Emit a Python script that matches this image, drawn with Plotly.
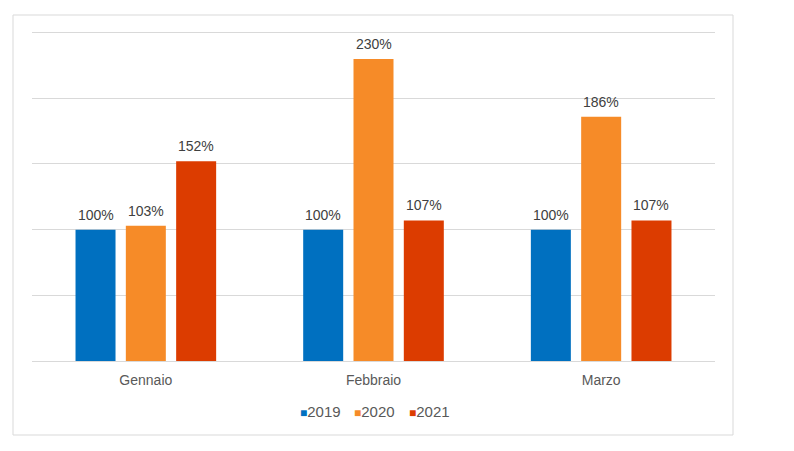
import plotly.graph_objects as go

categories = ["Gennaio", "Febbraio", "Marzo"]
series_names = ["2019", "2020", "2021"]
values_2019 = [1.00, 1.00, 1.00]
values_2020 = [1.03, 2.30, 1.86]
values_2021 = [1.52, 1.07, 1.07]
colors = ["#0070C0", "#F68B28", "#DC3C00"]

# plot-area geometry in pixels
L, R, T, B = 32, 79, 30, 90
W, H = 794, 451
PW = W - L - R
PH = H - T - B
BARGAP, BARGROUPGAP = 0.337, 0.205
SLOT = PW / len(categories) * (1 - BARGAP) / len(series_names)

FONT = "Liberation Sans, Arial, sans-serif"

fig = go.Figure()
annotations = []
all_vals = [values_2019, values_2020, values_2021]
for i, (name, vals, col) in enumerate(zip(series_names, all_vals, colors)):
    fig.add_trace(go.Bar(
        x=categories, y=vals, name=name,
        marker=dict(color=col, line=dict(width=0)),
        showlegend=False, hoverinfo="skip",
    ))
    # data labels above each bar
    for cat, v in zip(categories, vals):
        annotations.append(dict(
            x=cat, y=v, xref="x", yref="y", showarrow=False,
            xanchor="center", yanchor="bottom",
            xshift=(i - (len(series_names) - 1) / 2) * SLOT, yshift=5,
            text=f"{v:.0%}",
            font=dict(family=FONT, size=14, color="#404040"),
        ))

# legend drawn as text entries below the plot
legend_px = [298, 352, 407]
for name, col, px in zip(series_names, colors, legend_px):
    annotations.append(dict(
        xref="paper", yref="paper", x=(px - L) / PW, y=(H - B - 411) / PH,
        xanchor="left", yanchor="middle", showarrow=False,
        text=f"<span style='color:{col};font-size:12px'>■</span>{name}",
        font=dict(family=FONT, size=15, color="#595959"),
    ))

fig.update_layout(
    width=W, height=H,
    margin=dict(l=L, r=R, t=T, b=B),
    paper_bgcolor="white", plot_bgcolor="white",
    barmode="group", bargap=BARGAP, bargroupgap=BARGROUPGAP,
    font=dict(family=FONT, size=14, color="#595959"),
    showlegend=False,
    annotations=annotations,
    xaxis=dict(showgrid=False, showline=True, linecolor="#D9D9D9", linewidth=1,
               ticks="outside", ticklen=6, tickcolor="rgba(0,0,0,0)",
               tickfont=dict(size=14, color="#595959")),
    yaxis=dict(range=[0, 2.52], tickvals=[0.5, 1.0, 1.5, 2.0, 2.5], showgrid=True,
               gridcolor="#D9D9D9", gridwidth=1,
               showticklabels=False, zeroline=False, showline=False),
    shapes=[dict(type="rect", xref="paper", yref="paper",
                 x0=(13 - L) / PW, x1=(733 - L) / PW,
                 y0=(H - B - 435) / PH, y1=(H - B - 15) / PH,
                 line=dict(color="#D9D9D9", width=1), fillcolor="rgba(0,0,0,0)", layer="below")],
)

fig.write_html("out.html", config={"displayModeBar": False},
               post_script="document.body.style.margin='0';")
